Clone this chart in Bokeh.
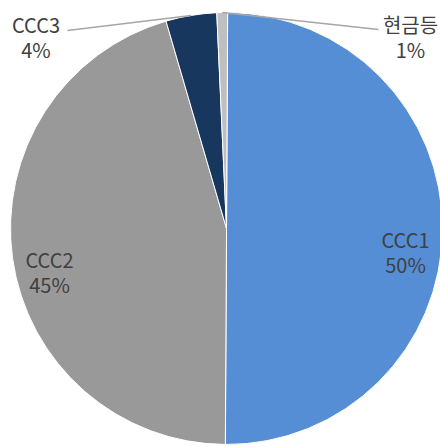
import numpy as np
from bokeh.plotting import figure
from bokeh.models import Range1d
from bokeh.core.properties import value
from bokeh.embed import file_html
from bokeh.resources import INLINE

# data
categories = ["CCC1", "CCC2", "CCC3", "현금등"]
shares = [50.0, 45.4, 3.8, 0.8]
pct_labels = ["50%", "45%", "4%", "1%"]
colors = ["#558ED5", "#999999", "#17375E", "#BFBFBF"]

# layout (pixel coordinates of the picture, y measured from top)
W, H = 440, 447
cx, cy_img, R = 226, 228, 216
start_offset_deg = 0.3
label_pos = {  # center x, first-line anchor (image coords)
    "CCC1": (405, 239),
    "CCC2": (49, 259),
    "CCC3": (35.5, 24),
    "현금등": (410, 24),
}
line_gap = 25
leader_ends = {"CCC3": (67, 30), "현금등": (378, 29)}

def fy(y_img):
    return H - y_img

cy = fy(cy_img)

p = figure(width=W, height=H, output_backend="svg", toolbar_location=None,
           x_range=Range1d(0, W), y_range=Range1d(0, H),
           min_border=0, outline_line_color=None)
p.axis.visible = False
p.grid.visible = False
p.background_fill_color = "white"
p.border_fill_color = "white"

vals = np.array(shares, dtype=float)
frac = vals / vals.sum() * 360.0
ends = np.cumsum(frac) + start_offset_deg
starts = ends - frac
# clockwise-from-top degrees -> bokeh radians (ccw from +x)
sa = np.deg2rad(90 - starts)
ea = np.deg2rad(90 - ends)

p.wedge(x=[cx] * len(vals), y=[cy] * len(vals), radius=R,
        start_angle=list(sa), end_angle=list(ea), direction="clock",
        fill_color=colors, line_color="white", line_width=1)

# leader lines
for i, cat in enumerate(categories):
    if cat in leader_ends:
        mid = np.deg2rad((starts[i] + ends[i]) / 2)
        ex = cx + R * np.sin(mid)
        ey = cy + R * np.cos(mid)
        lx, ly = leader_ends[cat]
        p.line([lx, ex], [fy(ly), ey], line_color="#A6A6A6", line_width=1.5)

# labels
for i, cat in enumerate(categories):
    x, b = label_pos[cat]
    p.text(x=[x, x], y=[fy(b), fy(b + line_gap)], text=[cat, pct_labels[i]],
           text_align="center", text_baseline="alphabetic",
           text_font=value("Noto Sans CJK KR"), text_font_size="20px",
           text_color="#404040")

open("out.html", "w").write(file_html(p, INLINE))
